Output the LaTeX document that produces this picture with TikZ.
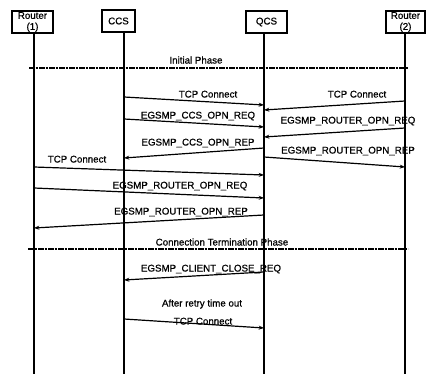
\documentclass[tikz,border=0pt]{standalone}
\usepackage{fontspec}
\setmainfont{Liberation Sans}[FakeBold=0.7]
\usetikzlibrary{arrows.meta}
\begin{document}
\begin{tikzpicture}[x=0.75pt,y=-0.75pt,
  box/.style={draw,line width=0.9pt,inner sep=0pt,align=center,
    font=\fontsize{7.3}{8.2}\selectfont},
  life/.style={line width=1pt},
  msg/.style={line width=0.9pt,-{Stealth[length=4pt,width=3pt]}},
  lbl/.style={font=\fontsize{7.3}{8.2}\selectfont,inner sep=0pt,text height=5.3pt,text depth=0pt},
  phase/.style={line width=1.4pt,dash pattern=on 2pt off 0.5pt}]
\useasboundingbox (0,0) rectangle (426,374);
% participants
\node[box,minimum width=30.75pt,minimum height=16.5pt] (r1) at (32.5,22) {Router\\(1)};
\node[box,minimum width=24.75pt,minimum height=16.5pt] (ccs) at (118.5,21) {CCS};
\node[box,minimum width=30.75pt,minimum height=16.5pt] (qcs) at (266.5,22) {QCS};
\node[box,minimum width=29.25pt,minimum height=16.5pt] (r2) at (405.5,22) {Router\\(2)};
% lifelines
\coordinate (r1t) at (34,33);   \coordinate (r1b) at (34,374);
\coordinate (ccst) at (124,32); \coordinate (ccsb) at (124,374);
\coordinate (qcst) at (264,33); \coordinate (qcsb) at (264,374);
\coordinate (r2t) at (405,33);  \coordinate (r2b) at (405,374);
\draw[life] (r1t) -- (r1b);
\draw[life] (ccst) -- (ccsb);
\draw[life] (qcst) -- (qcsb);
\draw[life] (r2t) -- (r2b);
% phases
\coordinate (p1a) at (29,68); \coordinate (p1b) at (408,68);
\draw[phase] (p1a) -- (p1b);
\node[lbl] (p1l) at (196,60) {Initial Phase};
\coordinate (p2a) at (28,249); \coordinate (p2b) at (408,249);
\draw[phase] (p2a) -- (p2b);
\node[lbl] (p2l) at (222,242) {Connection Termination Phase};
% messages
\coordinate (m1a) at (124,97);  \coordinate (m1b) at (264,105);
\draw[msg] (m1a) -- (m1b);
\node[lbl] (l1) at (208,94) {TCP Connect};
\coordinate (m2a) at (405,101); \coordinate (m2b) at (264,110);
\draw[msg] (m2a) -- (m2b);
\node[lbl] (l2) at (357,94) {TCP Connect};
\coordinate (m3a) at (124,119); \coordinate (m3b) at (264,127);
\draw[msg] (m3a) -- (m3b);
\node[lbl] (l3) at (198,115) {EGSMP\_CCS\_OPN\_REQ};
\coordinate (m4a) at (405,128); \coordinate (m4b) at (264,137);
\draw[msg] (m4a) -- (m4b);
\node[lbl] (l4) at (348,120) {EGSMP\_ROUTER\_OPN\_REQ};
\coordinate (m5a) at (264,148); \coordinate (m5b) at (124,158);
\draw[msg] (m5a) -- (m5b);
\node[lbl] (l5) at (198,142) {EGSMP\_CCS\_OPN\_REP};
\coordinate (m6a) at (264,157); \coordinate (m6b) at (405,167);
\draw[msg] (m6a) -- (m6b);
\node[lbl] (l6) at (348,150) {EGSMP\_ROUTER\_OPN\_REP};
\coordinate (m7a) at (34,167); \coordinate (m7b) at (264,175);
\draw[msg] (m7a) -- (m7b);
\node[lbl] (l7) at (77,159) {TCP Connect};
\coordinate (m8a) at (34,188); \coordinate (m8b) at (264,198);
\draw[msg] (m8a) -- (m8b);
\node[lbl] (l8) at (180,185) {EGSMP\_ROUTER\_OPN\_REQ};
\coordinate (m9a) at (264,215); \coordinate (m9b) at (34,228);
\draw[msg] (m9a) -- (m9b);
\node[lbl] (l9) at (181,211) {EGSMP\_ROUTER\_OPN\_REP};
\coordinate (m10a) at (264,272); \coordinate (m10b) at (124,280);
\draw[msg] (m10a) -- (m10b);
\node[lbl] (l10) at (211,268) {EGSMP\_CLIENT\_CLOSE\_REQ};
\node[lbl] (l11) at (202,303) {After retry time out};
\coordinate (m12a) at (124,319); \coordinate (m12b) at (264,328);
\draw[msg] (m12a) -- (m12b);
\node[lbl] (l12) at (203,321) {TCP Connect};
\end{tikzpicture}
\end{document}
